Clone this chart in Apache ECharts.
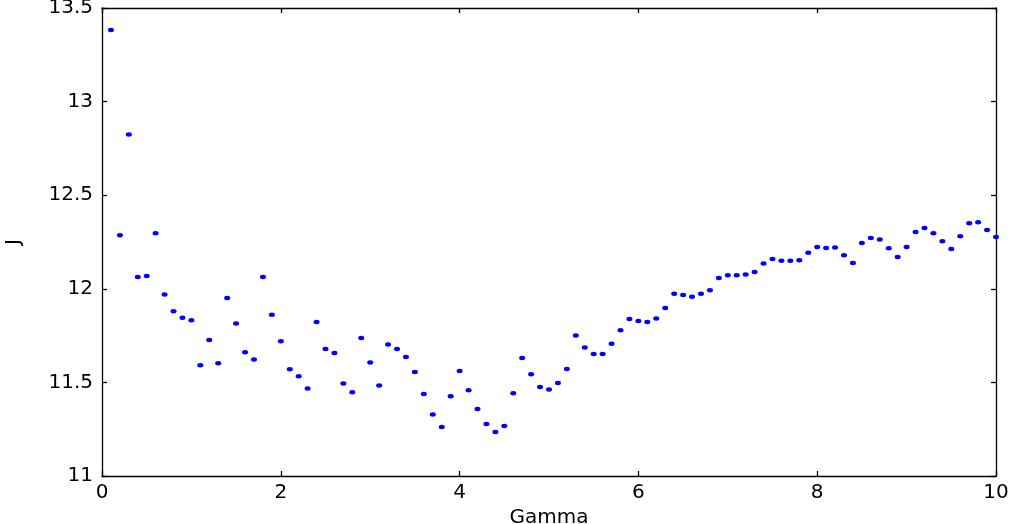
<!DOCTYPE html>
<html>
<head>
<meta charset="utf-8">
<script src="https://cdn.jsdelivr.net/npm/echarts@6/dist/echarts.min.js"></script>
<style>
  html, body { margin: 0; padding: 0; background: #fff; }
  #chart { width: 1012px; height: 524px; }
</style>
</head>
<body>
<div id="chart"></div>
<script>
// gamma values 0.1 .. 10.0
var gammaList = [
  0.1, 0.2, 0.3, 0.4, 0.5, 0.6, 0.7, 0.8, 0.9, 1.0,
  1.1, 1.2, 1.3, 1.4, 1.5, 1.6, 1.7, 1.8, 1.9, 2.0,
  2.1, 2.2, 2.3, 2.4, 2.5, 2.6, 2.7, 2.8, 2.9, 3.0,
  3.1, 3.2, 3.3, 3.4, 3.5, 3.6, 3.7, 3.8, 3.9, 4.0,
  4.1, 4.2, 4.3, 4.4, 4.5, 4.6, 4.7, 4.8, 4.9, 5.0,
  5.1, 5.2, 5.3, 5.4, 5.5, 5.6, 5.7, 5.8, 5.9, 6.0,
  6.1, 6.2, 6.3, 6.4, 6.5, 6.6, 6.7, 6.8, 6.9, 7.0,
  7.1, 7.2, 7.3, 7.4, 7.5, 7.6, 7.7, 7.8, 7.9, 8.0,
  8.1, 8.2, 8.3, 8.4, 8.5, 8.6, 8.7, 8.8, 8.9, 9.0,
  9.1, 9.2, 9.3, 9.4, 9.5, 9.6, 9.7, 9.8, 9.9, 10.0
];
// J values
var jList = [
  13.382, 12.286, 12.824, 12.063, 12.068, 12.297, 11.969, 11.880, 11.846, 11.832,
  11.591, 11.727, 11.602, 11.951, 11.815, 11.661, 11.622, 12.063, 11.862, 11.720,
  11.570, 11.533, 11.468, 11.822, 11.678, 11.657, 11.494, 11.447, 11.737, 11.606,
  11.483, 11.702, 11.678, 11.636, 11.556, 11.438, 11.328, 11.262, 11.426, 11.561,
  11.458, 11.358, 11.278, 11.235, 11.267, 11.442, 11.631, 11.543, 11.476, 11.462,
  11.497, 11.572, 11.750, 11.686, 11.652, 11.652, 11.707, 11.778, 11.839, 11.828,
  11.823, 11.842, 11.897, 11.974, 11.967, 11.958, 11.974, 11.992, 12.058, 12.072,
  12.072, 12.076, 12.090, 12.135, 12.159, 12.150, 12.150, 12.152, 12.193, 12.223,
  12.218, 12.220, 12.179, 12.138, 12.245, 12.271, 12.264, 12.216, 12.170, 12.223,
  12.303, 12.325, 12.297, 12.254, 12.213, 12.281, 12.350, 12.355, 12.314, 12.277
];

var pts = [];
for (var i = 0; i < gammaList.length; i++) {
  pts.push([gammaList[i], jList[i]]);
}

var fontName = 'DejaVu Sans';
var lineSty = { color: '#000', width: 1.3 };

var option = {
  backgroundColor: '#fff',
  animation: false,
  grid: { left: 102, right: 16, top: 8, bottom: 48, outerBoundsMode: 'none', containLabel: false },
  xAxis: [
    {
      type: 'value', min: 0, max: 10, interval: 2,
      name: 'Gamma', nameLocation: 'middle', nameGap: 27,
      nameTextStyle: { fontFamily: fontName, fontSize: 20, color: '#000' },
      axisLine: { show: true, onZero: false, lineStyle: lineSty },
      axisTick: { show: true, inside: true, length: 5, lineStyle: lineSty },
      axisLabel: { fontFamily: fontName, fontSize: 20, color: '#000', margin: 7 },
      splitLine: { show: false }
    },
    {
      type: 'value', min: 0, max: 10, interval: 2, position: 'top',
      axisLine: { show: true, onZero: false, lineStyle: lineSty },
      axisTick: { show: true, inside: true, length: 5, lineStyle: lineSty },
      axisLabel: { show: false },
      splitLine: { show: false }
    }
  ],
  yAxis: [
    {
      type: 'value', min: 11, max: 13.5, interval: 0.5,
      name: 'J', nameLocation: 'middle', nameGap: 78, nameRotate: 90,
      nameTextStyle: { fontFamily: fontName, fontSize: 20, color: '#000' },
      axisLine: { show: true, onZero: false, lineStyle: lineSty },
      axisTick: { show: true, inside: true, length: 5, lineStyle: lineSty },
      axisLabel: { fontFamily: fontName, fontSize: 20, color: '#000', margin: 9 },
      splitLine: { show: false }
    },
    {
      type: 'value', min: 11, max: 13.5, interval: 0.5, position: 'right',
      axisLine: { show: true, onZero: false, lineStyle: lineSty },
      axisTick: { show: true, inside: true, length: 5, lineStyle: lineSty },
      axisLabel: { show: false },
      splitLine: { show: false }
    }
  ],
  series: [
    {
      name: 'J',
      type: 'scatter',
      symbol: 'circle',
      symbolSize: [6, 4.5],
      itemStyle: { color: '#0000ff', opacity: 1 },
      data: pts
    }
  ]
};

var myChart = echarts.init(document.getElementById('chart'));
myChart.setOption(option);
</script>
</body>
</html>
